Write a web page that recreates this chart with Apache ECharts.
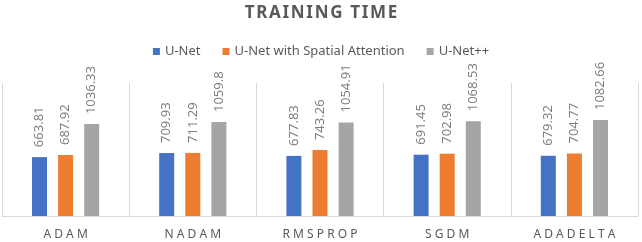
<!DOCTYPE html>
<html>
<head>
<meta charset="utf-8">
<script src="https://cdn.jsdelivr.net/npm/echarts@6/dist/echarts.min.js"></script>
<style>
  html, body { margin: 0; padding: 0; background: #fff; }
  #chart { width: 642px; height: 242px; }
</style>
</head>
<body>
<div id="chart"></div>
<script>
// training time per optimizer
const optimizers = ['ADAM', 'NADAM', 'RMSPROP', 'SGDM', 'ADADELTA'];
const unet = [663.81, 709.93, 677.83, 691.45, 679.32];
const unetSpatial = [687.92, 711.29, 743.26, 702.98, 704.77];
const unetPP = [1036.33, 1059.8, 1054.91, 1068.53, 1082.66];

const seriesNames = ['U-Net', 'U-Net with Spatial Attention', 'U-Net++'];
const colors = ['#4472c4', '#ed7d31', '#a5a5a5'];

const font = "'Noto Sans', sans-serif";
// spread letters a bit, like the original
const spaced = (s, gap) => s.split('').join(gap);

const chart = echarts.init(document.getElementById('chart'));

const makeSeries = (name, values, i) => ({
    name: name,
    type: 'bar',
    data: values,
    barWidth: 15,
    barGap: '74%',
    itemStyle: { color: colors[i] },
    label: {
        show: true,
        position: 'top',
        rotate: 90,
        distance: 10,
        align: 'left',
        verticalAlign: 'middle',
        color: '#7f7f7f',
        fontSize: 13,
        fontFamily: font,
    },
});

chart.setOption({
    animation: false,
    title: {
        text: spaced('TRAINING TIME', '\u200A'),
        left: 'center',
        top: 0,
        textStyle: {
            color: '#595959',
            fontSize: 17,
            fontWeight: 'bold',
            fontFamily: font,
        },
    },
    legend: {
        data: seriesNames,
        top: 40,
        left: 'center',
        icon: 'rect',
        itemWidth: 7,
        itemHeight: 7,
        itemGap: 22,
        textStyle: { color: '#595959', fontSize: 13, fontFamily: font },
    },
    grid: { left: 2, right: 4, top: 83, bottom: 26, containLabel: false },
    xAxis: {
        type: 'category',
        data: optimizers,
        axisLine: { show: true, lineStyle: { color: '#d9d9d9' } },
        axisTick: { show: false },
        splitLine: { show: true, lineStyle: { color: '#d9d9d9' } },
        axisLabel: {
            color: '#595959',
            fontSize: 12,
            fontFamily: font,
            margin: 13,
            formatter: (v) => spaced(v, ' '),
        },
    },
    yAxis: {
        type: 'value',
        min: 0,
        max: 1500,
        show: false,
        splitLine: { show: false },
    },
    series: [
        makeSeries(seriesNames[0], unet, 0),
        makeSeries(seriesNames[1], unetSpatial, 1),
        makeSeries(seriesNames[2], unetPP, 2),
    ],
});
</script>
</body>
</html>
